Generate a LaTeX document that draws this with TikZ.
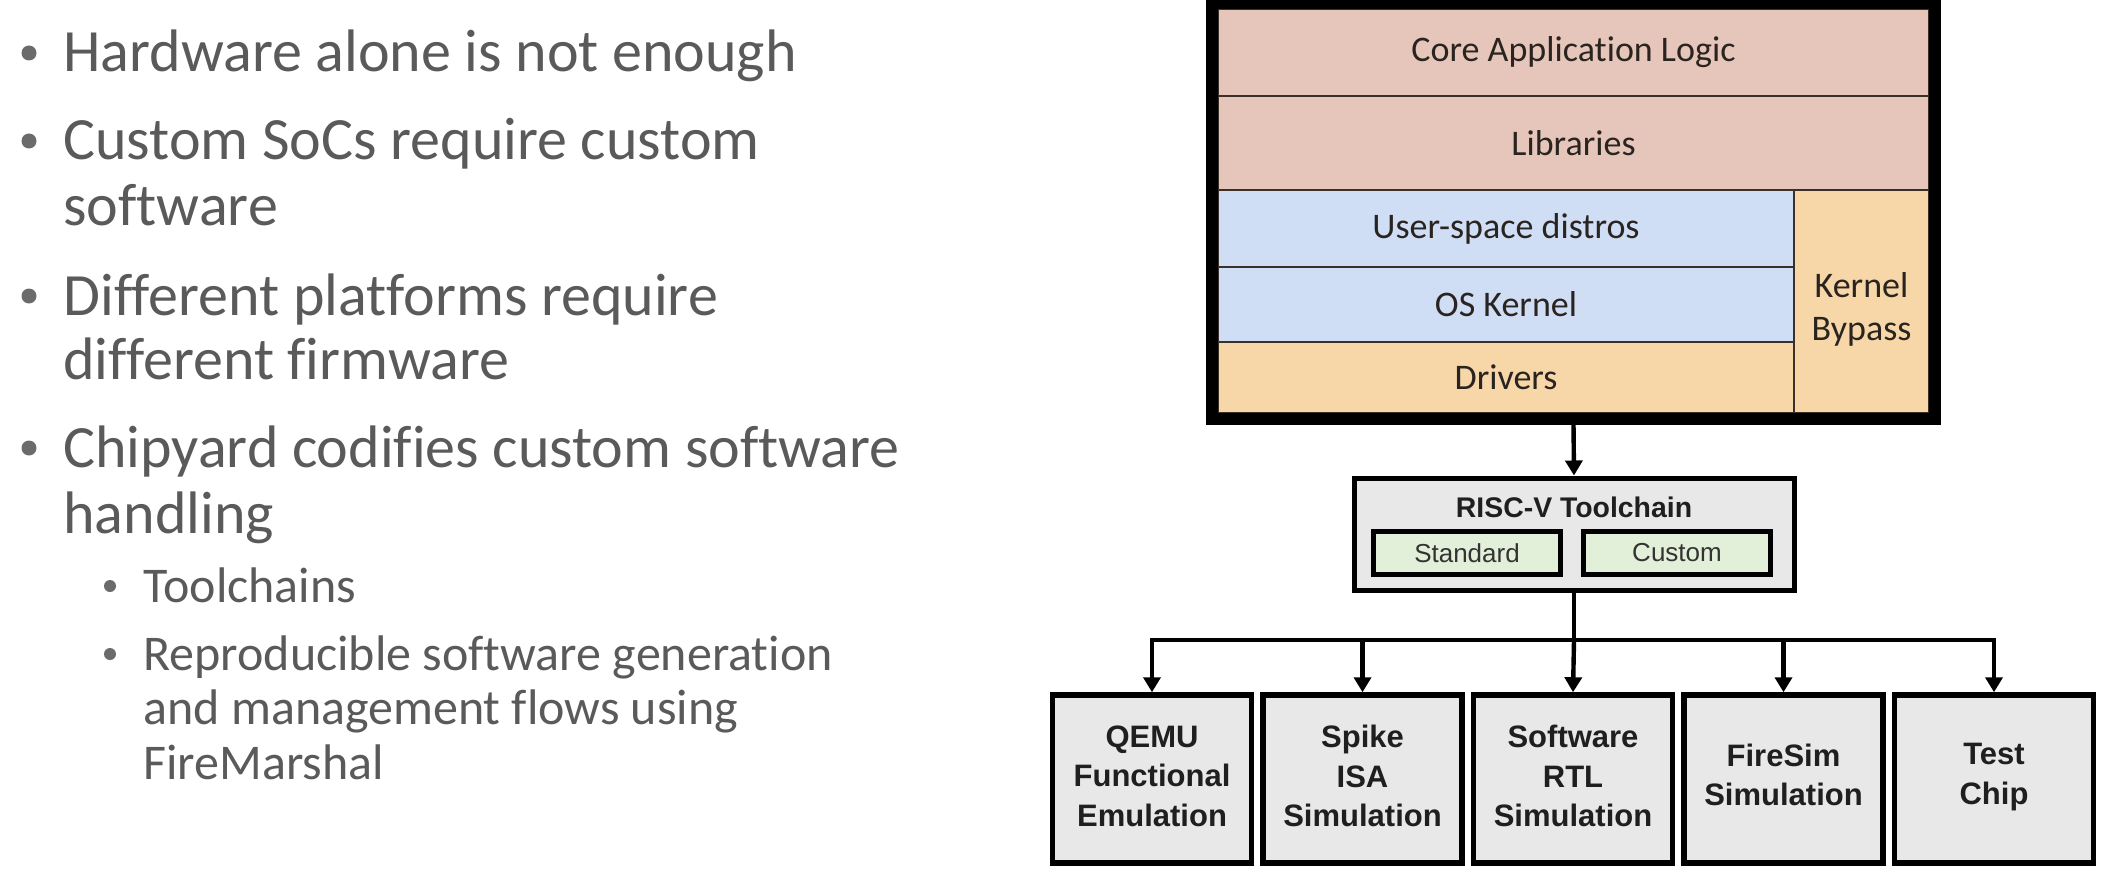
\documentclass[tikz,border=0pt]{standalone}
\usepackage{fontspec}
\setmainfont{Carlito}[Ligatures=CommonOff]
\newfontfamily\arialf{Liberation Sans}
\usetikzlibrary{arrows.meta}
\definecolor{txtgray}{HTML}{5A5A5A}
\definecolor{pinkL}{HTML}{E6C6BA}
\definecolor{blueL}{HTML}{CFDDF5}
\definecolor{orangeL}{HTML}{F7D6A8}
\definecolor{grayF}{HTML}{E8E8E8}
\definecolor{greenF}{HTML}{E2EFD9}
\definecolor{stacktxt}{HTML}{2A2420}
\definecolor{divline}{HTML}{3A3028}
\tikzset{
  maintxt/.style={anchor=base west,inner sep=0pt,text=txtgray,font=\fontsize{30}{32}\selectfont},
  subtxt/.style={anchor=base west,inner sep=0pt,text=txtgray,font=\fontsize{25}{27}\selectfont},
  mainbul/.style={circle,fill=txtgray!90,inner sep=0pt,minimum size=7.5pt},
  subbul/.style={circle,fill=txtgray!90,inner sep=0pt,minimum size=6pt},
  layer/.style={draw=divline,line width=0.8pt,inner sep=0pt,text=stacktxt,font=\fontsize{18}{21.5}\selectfont,align=center},
  frame/.style={draw=black,line width=6pt,inner sep=0pt},
  toolbox/.style={draw=black,fill=grayF,line width=2.5pt,inner sep=0pt,minimum width=220pt,minimum height=56pt},
  variant/.style={draw=black,fill=greenF,line width=2.5pt,inner sep=0pt,minimum width=93.5pt,minimum height=21.5pt,text=black!80,font=\arialf\fontsize{13}{15}\selectfont},
  target/.style={draw=black,fill=grayF,line width=2.75pt,inner sep=0pt,minimum width=99.5pt,minimum height=84pt,align=center,text=black!88,font=\arialf\bfseries\fontsize{15.5}{19.75}\selectfont},
  ttext/.style={inner sep=0pt,align=center,text=black!88,font=\arialf\bfseries\fontsize{15.5}{19.75}\selectfont},
  conn/.style={draw=black,line width=2.2pt},
  arr/.style={conn,-{Triangle[width=8.5pt,length=7.5pt]}},
}
\begin{document}
\begin{tikzpicture}[x=0.5pt,y=-0.5pt]
\useasboundingbox (0,0) rectangle (2114,872);
\fill[white] (0,0) rectangle (2114,872);
% ---------- left bullets ----------
\node[mainbul] (d1) at (29,53) {};
\node[maintxt] (t1) at (63,72) {Hardware alone is not enough};
\node[mainbul] (d2) at (29,141) {};
\node[maintxt] (t2a) at (63,160) {Custom SoCs require custom};
\node[maintxt] (t2b) at (63,225) {software};
\node[mainbul] (d3) at (29,296) {};
\node[maintxt] (t3a) at (63,315) {Different platforms require};
\node[maintxt] (t3b) at (63,379) {different firmware};
\node[mainbul] (d4) at (29,448) {};
\node[maintxt] (t4a) at (63,467) {Chipyard codifies custom software};
\node[maintxt] (t4b) at (63,533) {handling};
\node[subbul] (e1) at (110,586) {};
\node[subtxt] (s1) at (143,602) {Toolchains};
\node[subbul] (e2) at (110,654) {};
\node[subtxt] (s2a) at (143,670) {Reproducible software generation};
\node[subtxt] (s2b) at (143,724) {and management flows using};
\node[subtxt] (s2c) at (143,779) {FireMarshal};
% ---------- software stack ----------
\node[layer,fill=pinkL,minimum width=355.5pt,minimum height=43.5pt] (core) at (1573.5,52.5) {Core Application Logic};
\node[layer,fill=pinkL,minimum width=355.5pt,minimum height=47pt] (libs) at (1573.5,143) {Libraries};
\node[layer,fill=blueL,minimum width=288pt,minimum height=38.5pt] (user) at (1506,228.5) {User-space distros};
\node[layer,fill=blueL,minimum width=288pt,minimum height=37.5pt] (oskern) at (1506,304.5) {OS Kernel};
\node[layer,fill=orangeL,minimum width=288pt,minimum height=35.5pt] (drivers) at (1506,377.5) {Drivers};
\node[layer,fill=orangeL,minimum width=67.5pt,minimum height=111.5pt] (bypass) at (1861.5,301.5) {};
\node[inner sep=0pt,align=center,text=stacktxt,font=\fontsize{18}{21.5}\selectfont] (bypasstxt) at (1861.5,309) {Kernel\\Bypass};
\node[frame,minimum width=361.5pt,minimum height=208pt] (stack) at (1573.5,211) {};
% ---------- toolchain ----------
\node[toolbox] (tool) at (1574,534) {};
\node[anchor=base,inner sep=0pt,text=black!88,font=\arialf\bfseries\fontsize{14.2}{16}\selectfont] (tooltitle) at (1574,517) {RISC-V Toolchain};
\node[variant] (std) at (1467,553) {Standard};
\node[variant] (cust) at (1677,553) {Custom};
% ---------- targets ----------
\node[target] (b1) at (1152,779) {};
\node[target] (b2) at (1362.5,779) {};
\node[target] (b3) at (1573,779) {};
\node[target] (b4) at (1783.5,779) {};
\node[target] (b5) at (1994,779) {};
\node[ttext] (l1) at (1152,776) {QEMU\\Functional\\Emulation};
\node[ttext] (l2) at (1362.5,776) {Spike\\ISA\\Simulation};
\node[ttext] (l3) at (1573,776) {Software\\RTL\\Simulation};
\node[ttext] (l4) at (1783.5,775) {FireSim\\Simulation};
\node[ttext] (l5) at (1994,777) {Test\\Chip};
% ---------- connectors ----------
\draw[arr] (stack.south) -- (tool.north);
\coordinate (bus) at (1574,640);
\draw[conn] (tool.south) -- (bus);
\draw[arr] (bus) -| (b1.north);
\draw[arr] (bus) -| (b2.north);
\draw[arr] (bus) -- (b3.north);
\draw[arr] (bus) -| (b4.north);
\draw[arr] (bus) -| (b5.north);
\end{tikzpicture}
\end{document}
